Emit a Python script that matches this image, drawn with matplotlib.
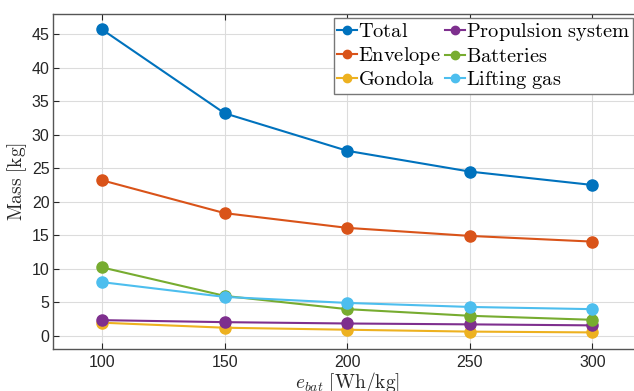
import matplotlib
matplotlib.use("Agg")
import matplotlib.pyplot as plt

plt.rcParams['mathtext.fontset'] = 'cm'
plt.rcParams['font.family'] = ['Liberation Sans', 'DejaVu Sans']

# battery specific energy [Wh/kg]
e_bat = [100, 150, 200, 250, 300]

# masses [kg]
total = [45.7, 33.2, 27.6, 24.5, 22.5]
envelope = [23.2, 18.3, 16.1, 14.9, 14.05]
gondola = [1.95, 1.2, 0.9, 0.62, 0.5]
propulsion = [2.33, 2.03, 1.83, 1.7, 1.55]
batteries = [10.2, 5.95, 3.97, 2.98, 2.38]
lifting_gas = [8.0, 5.8, 4.9, 4.3, 3.97]

series = [
    (r'$\mathrm{Total}$', total, '#0072BD'),
    (r'$\mathrm{Envelope}$', envelope, '#D95319'),
    (r'$\mathrm{Gondola}$', gondola, '#EDB120'),
    (r'$\mathrm{Propulsion\ system}$', propulsion, '#7E2F8E'),
    (r'$\mathrm{Batteries}$', batteries, '#77AC30'),
    (r'$\mathrm{Lifting\ gas}$', lifting_gas, '#4DBEEE'),
]

fig = plt.figure(figsize=(6.34, 3.91), dpi=100)
ax = fig.add_axes([0.0836, 0.107, 0.928, 0.857])

for name, vals, col in series:
    ax.plot(e_bat, vals, '-o', color=col, lw=1.5, ms=8, label=name)

ax.set_xlim(80, 320)
ax.set_ylim(-2, 48)
ax.set_xticks(e_bat)
ax.set_yticks(range(0, 50, 5))
ax.grid(True, color='#dcdcdc', lw=0.8)
ax.set_axisbelow(True)
ax.tick_params(direction='in', top=True, right=True, labelsize=11.5,
               colors='#262626', length=4, pad=2.5)
ax.tick_params(axis='x', pad=4)
for s in ax.spines.values():
    s.set_color('#555555')
    s.set_linewidth(1.0)

ax.set_ylabel(r'$\mathrm{Mass\ [kg]}$', fontsize=14, color='#262626', labelpad=2)
ax.set_xlabel(r'$e_{bat}\ \mathrm{[Wh/kg]}$', fontsize=14, color='#262626', labelpad=0)

leg = fig.legend(loc='upper left', bbox_to_anchor=(0.527, 0.953), ncol=2,
                 fontsize=14.7, handlelength=0.95, handletextpad=0.05,
                 columnspacing=0.25, labelspacing=0.16, borderpad=0.15,
                 borderaxespad=0, fancybox=False, framealpha=1)
leg.get_frame().set_edgecolor('#777777')
leg.get_frame().set_linewidth(1.0)
for h in leg.legend_handles:
    h.set_markersize(6)

fig.savefig('out.png', dpi=100)
